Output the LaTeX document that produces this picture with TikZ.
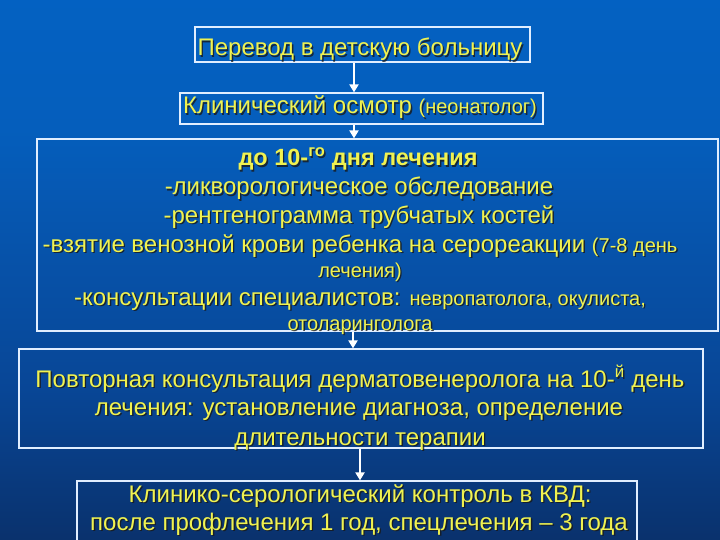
\documentclass[tikz,border=0pt]{standalone}
\usepackage{fontspec}
\setmainfont{Liberation Sans}
\usetikzlibrary{arrows.meta}
\definecolor{txty}{RGB}{240,242,80}
\definecolor{boxc}{RGB}{225,238,255}
\definecolor{bgA}{RGB}{0,104,206}
\definecolor{bgB}{RGB}{5,94,188}
\definecolor{bgC}{RGB}{8,70,150}
\definecolor{bgD}{RGB}{10,45,100}
\definecolor{bgE}{RGB}{8,25,65}
\pgfdeclareverticalshading{bgsh}{100bp}{color(0bp)=(bgE); color(22bp)=(bgD); color(39bp)=(bgC); color(63bp)=(bgB); color(100bp)=(bgA)}
\tikzset{
  box/.style={draw=boxc, line width=1.2pt, inner sep=0pt},
  txt/.style={text=txty, anchor=base, inner sep=0pt},
  shd/.style={text=black!90, anchor=base, inner sep=0pt, opacity=0.8},
  arr/.style={draw=white, line width=2.6pt, -{Triangle[width=9pt,length=8pt]}},
  fA/.style={font=\fontsize{24}{28}\selectfont},
  fC/.style={font=\bfseries\fontsize{23.5}{27}\selectfont}
}
\newcommand\ytx[5]{%
  \node[shd,#4] at (#2+1.4,#3+1.4) {#5};
  \node[txt,#4] (#1) at (#2,#3) {#5};}
\newcommand\sm[1]{{\fontsize{20}{24}\selectfont #1}}
\begin{document}
\begin{tikzpicture}[x=1pt,y=-1pt]
\useasboundingbox (0,0) rectangle (720,540);
\clip (0,0) rectangle (720,540);
\shade[shading=bgsh] (0,0) rectangle (720,540);
% boxes
\node[box, minimum width=335pt, minimum height=35pt] (b1) at (362.5,44.5) {};
\node[box, minimum width=363pt, minimum height=31pt] (b2) at (361.5,108.5) {};
\node[box, minimum width=681pt, minimum height=192pt] (b3) at (377.5,235) {};
\node[box, minimum width=684pt, minimum height=99pt] (b4) at (361,398.5) {};
\node[box, minimum width=560pt, minimum height=64pt] (b5) at (357,513) {};
% arrow axes
\coordinate (ax1) at (354,0);
\coordinate (ax3) at (353,0);
\coordinate (ax4) at (360,0);
\draw[arr] (ax1 |- b1.south) -- (ax1 |- b2.north);
\draw[arr] (ax1 |- b2.south) -- (ax1 |- b3.north);
\draw[arr] (ax3 |- b3.south) -- (ax3 |- b4.north);
\draw[arr] (ax4 |- b4.south) -- (ax4 |- b5.north);
% texts
\ytx{t1}{360}{56}{fA}{Перевод в детскую больницу}
\ytx{t2}{360}{114}{fA}{Клинический осмотр \sm{(неонатолог)}}
\ytx{t3a}{358}{166}{fC}{до 10-\textsuperscript{го} дня лечения}
\ytx{t3b}{359}{195}{fA}{-ликворологическое обследование}
\ytx{t3c}{359}{223}{fA}{-рентгенограмма трубчатых костей}
\ytx{t3d}{360}{252}{fA}{-взятие венозной крови ребенка на серореакции \sm{(7-8 день}}
\ytx{t3e}{360}{277}{fA}{\sm{лечения)}}
\ytx{t3f}{360}{305}{fA}{-консультации специалистов: \sm{невропатолога, окулиста,}}
\ytx{t3g}{360}{330}{fA}{\sm{отоларинголога}}
\ytx{t4a}{360}{387}{fA}{Повторная консультация дерматовенеролога на 10-\textsuperscript{й} день}
\ytx{t4b}{359}{415}{fA}{лечения: установление диагноза, определение}
\ytx{t4c}{360}{445}{fA}{длительности терапии}
\ytx{t5a}{360}{502}{fA}{Клинико-серологический контроль в КВД:}
\ytx{t5b}{359}{530}{fA}{после профлечения 1 год, спецлечения – 3 года}
\end{tikzpicture}
\end{document}
